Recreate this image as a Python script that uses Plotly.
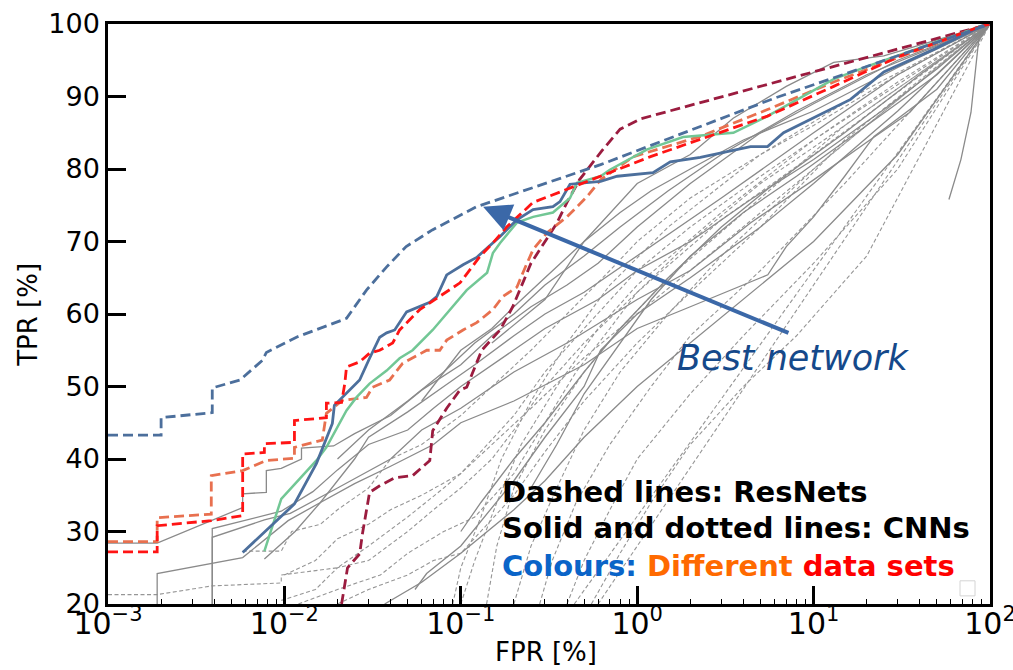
import plotly.graph_objects as go

# ---------------- data (FPR %, TPR %) ----------------
# coloured ResNet (dashed) curves
blue_dash_x = [0.001, 0.002, 0.002, 0.0039, 0.0039, 0.0056, 0.0075, 0.0079, 0.0117, 0.0164, 0.0225,
               0.0292, 0.038, 0.049, 0.069, 0.123, 0.62, 5.9, 100]
blue_dash_y = [43.3, 43.3, 45.7, 46.4, 49.8, 50.9, 53.6, 54.7, 56.8, 58.2, 59.4,
               63.3, 66.5, 69.3, 71.6, 74.8, 80.6, 89.7, 100]

red_dash_x = [0.001, 0.0019, 0.0019, 0.00385, 0.0058, 0.0058, 0.0077, 0.0077, 0.0114, 0.0114, 0.0173,
              0.0173, 0.0211, 0.022, 0.0225, 0.0267, 0.0304, 0.0347, 0.0411, 0.045, 0.0585, 0.076,
              0.099, 0.128, 0.152, 0.182, 0.257, 0.40, 0.62, 0.77, 1.19, 2.28, 5.48, 13, 31, 89, 100]
red_dash_y = [27.2, 27.2, 30.8, 31.5, 32.2, 40.7, 40.9, 42.1, 42.3, 45.3, 45.7,
              47.7, 47.8, 50.4, 52.7, 53.4, 54.6, 55.0, 56.0, 57.8, 60.6, 62.4,
              64.3, 67.9, 69.8, 72.0, 75.4, 77.2, 79.0, 79.9, 81.7, 84.1, 87.3, 91.4, 95.6, 99.7, 100]

coral_dash_x = [0.001, 0.0019, 0.0019, 0.00385, 0.00385, 0.0058, 0.0079, 0.0114, 0.0114, 0.0164, 0.0173,
                0.0214, 0.0292, 0.0316, 0.0395, 0.0468, 0.0641, 0.076, 0.0832, 0.103, 0.123, 0.152,
                0.173, 0.208, 0.225, 0.257, 0.308, 0.40, 0.52, 0.62, 0.95, 2.28, 5.48, 13, 89, 100]
coral_dash_y = [28.6, 28.6, 31.9, 32.4, 37.7, 38.4, 39.8, 40.1, 41.6, 42.6, 46.3,
                48.1, 48.5, 49.9, 50.9, 53.2, 55.0, 55.0, 56.4, 57.8, 58.8, 60.6,
                62.4, 63.7, 65.7, 68.9, 71.2, 73.4, 76.2, 78.5, 81.7, 84.5, 88.2, 92.0, 99.7, 100]

maroon_dash_x = [0.0211, 0.0228, 0.0267, 0.0277, 0.0304, 0.0347, 0.0422, 0.0533, 0.0667, 0.0693, 0.0832,
                 0.0987, 0.108, 0.1315, 0.167, 0.197, 0.25, 0.35, 0.40, 0.47, 0.63, 0.8, 1.04, 100]
maroon_dash_y = [20.0, 25.0, 26.9, 29.7, 35.4, 36.3, 37.4, 37.7, 39.8, 43.9, 47.0,
                 49.5, 49.9, 55.0, 57.8, 61.0, 67.0, 72.5, 75.4, 78.5, 82.5, 85.5, 86.9, 100]

# coloured CNN (solid) curves
blue_solid_x = [0.0058, 0.0114, 0.0152, 0.0187, 0.0192, 0.0267, 0.0304, 0.0347, 0.038, 0.0422, 0.0493,
                0.0667, 0.0731, 0.0832, 0.103, 0.123, 0.141, 0.167, 0.208, 0.257, 0.333, 0.365, 0.416,
                0.493, 0.62, 0.77, 1.23, 1.54, 2.28, 4.39, 5.48, 6.76, 10.5, 16.2, 25, 48, 89, 100]
blue_solid_y = [27.1, 33.8, 39.4, 44.9, 47.4, 50.9, 53.9, 56.8, 57.4, 57.8, 60.3,
                61.6, 62.4, 65.4, 66.8, 67.8, 69.1, 70.7, 73.0, 74.4, 74.8, 75.5, 77.9,
                78.1, 78.3, 79.0, 79.5, 81.0, 81.6, 83.1, 83.1, 85.0, 87.3, 89.6, 93.4, 96.5, 99.7, 100]

green_solid_x = [0.0077, 0.0096, 0.0152, 0.0173, 0.0225, 0.0256, 0.0304, 0.038, 0.045, 0.0533, 0.0693,
                 0.090, 0.108, 0.141, 0.152, 0.167, 0.208, 0.257, 0.333, 0.416, 0.456, 0.62, 0.70,
                 1.14, 1.82, 3.51, 5.48, 13, 20.3, 89, 100]
green_solid_y = [27.3, 34.5, 39.8, 41.6, 46.7, 48.5, 50.4, 52.2, 53.9, 55.0, 57.8,
                 61.0, 63.3, 65.7, 68.4, 69.8, 72.6, 73.4, 74.0, 76.0, 78.1, 79.0, 79.9,
                 82.7, 84.4, 85.0, 87.3, 92.4, 94.2, 99.7, 100]

# grey CNN curves (solid)
grey_solid = [
    ([0.001, 0.0019, 0.0058, 0.0058, 0.0079, 0.0079, 0.0096, 0.0125, 0.0125, 0.019, 0.025, 0.04, 0.06,
      0.1, 0.15, 0.25, 0.4, 0.6, 1, 2, 5, 10, 30, 100],
     [28.4, 28.4, 33.3, 35.2, 35.4, 38.4, 38.7, 40.0, 41.5, 41.8, 43.5, 46.0, 49.5,
      53.0, 57.0, 61.0, 64.0, 67.0, 72.0, 78.0, 85.0, 89.0, 95.0, 100]),
    ([0.0019, 0.0019, 0.0058, 0.0105, 0.016, 0.025, 0.03, 0.05, 0.08, 0.12, 0.2, 0.3, 0.5, 1, 3, 10, 30, 100],
     [20, 24.2, 26.4, 31.5, 34, 40, 43, 46.5, 50, 53, 57, 60, 63, 68, 76, 85, 93, 100]),
    ([0.0039, 0.0039, 0.0096, 0.0145, 0.02, 0.03, 0.05, 0.07, 0.1, 0.2, 0.3, 0.6, 1, 2, 4.4, 10, 25, 50, 100],
     [20, 30.4, 32.8, 35.5, 38.5, 42, 44, 47, 50, 55, 58, 62, 66, 70, 75.8, 81.3, 88.2, 93.8, 100]),
    ([0.0039, 0.0039, 0.0077, 0.0108, 0.02, 0.04, 0.06, 0.1, 0.2, 0.4, 1, 2, 4.4, 10, 20, 35, 100],
     [20, 29.2, 31.6, 32.5, 36, 40, 44, 47, 52, 56, 62, 66, 72.6, 78.5, 83.7, 87.8, 100]),
    ([0.0077, 0.0115, 0.016, 0.025, 0.04, 0.07, 0.1, 0.2, 0.5, 1, 2, 5.5, 7, 10, 15, 22, 50, 100],
     [26.2, 30, 34, 36.6, 39, 42, 45, 48, 53, 58, 61, 65.4, 69.3, 73.4, 79, 84.5, 91, 100]),
    ([0.15, 0.3, 0.5, 1, 2, 3.5, 7, 13, 25, 100],
     [56, 62, 70, 78, 82, 87, 91.4, 94.7, 95.6, 100]),
    ([58.5, 68.4, 78, 86.7, 100],
     [75.8, 81.3, 87.8, 98.3, 100]),
    ([0.037, 0.06, 0.1, 0.2, 0.3, 0.5, 1, 2, 4, 10, 30, 100],
     [20, 23, 27, 33, 37, 43, 50, 56, 62, 70, 82, 100]),
    ([0.055, 0.064, 0.1, 0.2, 0.3, 0.5, 0.62, 1, 2, 5, 10, 30, 100],
     [22, 24.2, 28, 37, 43, 50, 55, 60, 65, 72, 78, 88, 100]),
    ([0.02, 0.03, 0.05, 0.08, 0.12, 0.2, 0.3, 0.5, 0.8, 1.5, 3, 8, 20, 100],
     [40, 44, 48, 52, 56, 60, 64, 68, 72, 77, 82, 88, 93, 100]),
    ([0.06, 0.08, 0.1, 0.15, 0.2, 0.3, 0.5, 0.8, 1.2, 2, 4, 10, 30, 100],
     [48, 52, 55, 58, 61, 65, 70, 74, 77, 80, 84, 88, 94, 100]),
    ([0.1, 0.13, 0.2, 0.3, 0.5, 0.8, 1.5, 3, 6, 15, 40, 100],
     [30, 34, 40, 45, 52, 58, 65, 72, 78, 85, 93, 100]),
    ([0.25, 0.35, 0.5, 0.8, 1.2, 2, 4, 8, 20, 50, 100],
     [36, 42, 49, 56, 62, 68, 74, 79, 86, 93, 100]),
]

# grey ResNet curves (dashed)
grey_dashed = [
    ([0.001, 0.0019, 0.0039, 0.0096, 0.0096, 0.02, 0.03, 0.05, 0.08, 0.1, 0.2, 0.3, 0.5, 1, 2, 5, 10, 30, 100],
     [21.3, 21.3, 22.5, 22.9, 24, 25, 28, 32, 36, 38, 46, 52, 58, 66, 72, 79, 84, 92, 100]),
    ([0.0058, 0.0096, 0.011, 0.016, 0.02, 0.03, 0.04, 0.06, 0.1, 0.15, 0.25, 0.4, 0.7, 1, 2, 5, 10, 30, 100],
     [27.3, 27.3, 30, 31, 33, 36, 40, 42, 46, 50, 55, 60, 66, 70, 76, 82, 86, 93, 100]),
    ([0.0096, 0.015, 0.02, 0.03, 0.05, 0.07, 0.1, 0.15, 0.2, 0.3, 0.5, 1, 2, 5, 10, 100],
     [20.5, 22, 25, 26, 30, 33, 36, 40, 44, 50, 56, 63, 70, 78, 83, 100]),
    ([0.012, 0.02, 0.035, 0.05, 0.08, 0.12, 0.2, 0.3, 0.45, 0.7, 1, 3, 10, 100],
     [20, 22, 24, 27, 30, 32, 38, 45, 52, 58, 63, 73, 82, 100]),
    ([0.09, 0.1, 0.13, 0.17, 0.25, 0.4, 0.7, 1.5, 5, 20, 100],
     [20, 25, 32, 40, 48, 56, 64, 72, 82, 91, 100]),
    ([0.1, 0.12, 0.16, 0.22, 0.35, 0.6, 1, 3, 10, 100],
     [20, 26, 34, 42, 50, 58, 64, 74, 84, 100]),
    ([0.14, 0.16, 0.2, 0.3, 0.5, 0.8, 1.5, 4, 15, 100],
     [20, 28, 36, 44, 52, 58, 65, 74, 86, 100]),
    ([0.2, 0.25, 0.35, 0.5, 0.8, 1.5, 3, 10, 100],
     [20, 28, 36, 44, 52, 60, 68, 80, 100]),
    ([0.28, 0.33, 0.45, 0.7, 1.2, 2, 5, 15, 100],
     [20, 26, 34, 42, 50, 57, 66, 78, 100]),
    ([0.4, 0.5, 0.7, 1, 2, 4, 10, 30, 100],
     [20, 26, 33, 40, 49, 57, 67, 80, 100]),
    ([0.55, 0.8, 1.2, 2, 4, 8, 20, 100],
     [20, 27, 34, 42, 50, 57, 68, 100]),
    ([0.44, 100], [20, 100]),
    ([0.6, 100], [20, 100]),
    ([0.01, 0.015, 0.02, 0.03, 0.04, 0.06, 0.1, 0.15, 0.25, 0.5, 1, 2, 5, 20, 100],
     [24, 26, 29, 31, 33, 35, 38, 42, 47, 54, 60, 66, 74, 86, 100]),
    ([0.02, 0.03, 0.05, 0.07, 0.1, 0.13, 0.2, 0.3, 0.5, 1, 2, 5, 15, 100],
     [20, 22, 24, 26, 27, 30, 35, 41, 48, 56, 63, 72, 84, 100]),
]

x_tick_vals = [0.001, 0.01, 0.1, 1, 10, 100]
x_tick_text = ["10<sup>\u22123</sup>", "10<sup>\u22122</sup>", "10<sup>\u22121</sup>",
               "10<sup>0</sup>", "10<sup>1</sup>", "10<sup>2</sup>"]
x_minor_vals = [d * m for d in [0.001, 0.01, 0.1, 1, 10] for m in range(2, 10)]
y_tick_vals = [20, 30, 40, 50, 60, 70, 80, 90, 100]

# ---------------- colours / styles ----------------
BLUE = "#4c6f9c"
GREEN = "#72c795"
RED = "#ff1414"
CORAL = "#e8704f"
MAROON = "#9b1c3f"
GREY_S = "#8a8a8a"
GREY_D = "#969696"
CDASH = "10px,5px"

fig = go.Figure()


def add(x, y, color, width, dash="solid"):
    fig.add_trace(go.Scatter(x=x, y=y, mode="lines",
                             line=dict(color=color, width=width, dash=dash),
                             showlegend=False, hoverinfo="skip"))


for gx, gy in grey_dashed:
    add(gx, gy, GREY_D, 1.1, "4px,2.5px")
for gx, gy in grey_solid:
    add(gx, gy, GREY_S, 1.3)

add(maroon_dash_x, maroon_dash_y, MAROON, 2.8, CDASH)
add(coral_dash_x, coral_dash_y, CORAL, 2.8, CDASH)
add(green_solid_x, green_solid_y, GREEN, 2.5)
add(blue_solid_x, blue_solid_y, BLUE, 2.8)
add(red_dash_x, red_dash_y, RED, 2.8, CDASH)
add(blue_dash_x, blue_dash_y, BLUE, 2.8, CDASH)

font_dv = "DejaVu Sans"

fig.update_layout(
    template="none",
    width=1013, height=670,
    margin=dict(l=108, r=23, t=24, b=66),
    paper_bgcolor="white", plot_bgcolor="white",
    showlegend=False,
    xaxis=dict(
        type="log", range=[-3, 2], automargin=False,
        showline=True, linecolor="black", linewidth=2.5, mirror=True,
        showgrid=False, zeroline=False,
        tickmode="array", tickvals=x_tick_vals, ticktext=x_tick_text,
        ticks="inside", ticklen=18, tickwidth=2.5, tickcolor="black",
        ticklabeloverflow="allow", ticklabelstandoff=-9,
        tickfont=dict(family=font_dv, size=30, color="black"),
        minor=dict(tickmode="array", tickvals=x_minor_vals, ticks="inside",
                   ticklen=5, tickwidth=1, tickcolor="black", showgrid=False),
    ),
    yaxis=dict(
        range=[20, 100], automargin=False,
        showline=True, linecolor="black", linewidth=2.5, mirror=True,
        showgrid=False, zeroline=False,
        tickmode="array", tickvals=y_tick_vals,
        ticks="inside", ticklen=18, tickwidth=2.5, tickcolor="black",
        tickfont=dict(family=font_dv, size=27, color="black"),
    ),
)

# axis titles
fig.add_annotation(text="FPR [%]", xref="paper", yref="paper", x=0.4966, y=-0.082,
                   xanchor="center", yanchor="middle", showarrow=False,
                   font=dict(family=font_dv, size=26, color="black"))
fig.add_annotation(text="TPR [%]", xref="paper", yref="paper", x=-0.09, y=0.498,
                   xanchor="center", yanchor="middle", showarrow=False, textangle=-90,
                   font=dict(family=font_dv, size=26, color="black"))

# arrow to best network
fig.add_annotation(x=-0.874, y=74.8, ax=0.866, ay=57.3, xref="x", yref="y", axref="x", ayref="y",
                   text="", showarrow=True, arrowhead=2, arrowwidth=4, arrowsize=1.4,
                   arrowcolor="#3b68a8")
fig.add_annotation(x=0.214, y=53.9, xref="x", yref="y", text="Best network", showarrow=False,
                   xanchor="left", yanchor="middle",
                   font=dict(family=font_dv, size=35, color="#15498a", style="italic"))

# explanatory text block
fig.add_annotation(x=-0.778, y=35.5, xref="x", yref="y", text="Dashed lines: ResNets",
                   showarrow=False, xanchor="left", yanchor="middle",
                   font=dict(family=font_dv, size=29, color="black", weight="bold"))
fig.add_annotation(x=-0.778, y=30.5, xref="x", yref="y", text="Solid and dotted lines: CNNs",
                   showarrow=False, xanchor="left", yanchor="middle",
                   font=dict(family=font_dv, size=29, color="black", weight="bold"))
fig.add_annotation(x=-0.778, y=25.2, xref="x", yref="y",
                   text="<span style='color:#0a64c8'>Colours:</span> "
                        "<span style='color:#ff6a00'>Different</span> "
                        "<span style='color:#ff0000'>data sets</span>",
                   showarrow=False, xanchor="left", yanchor="middle",
                   font=dict(family=font_dv, size=29, color="black", weight="bold"))

# empty legend frame (bottom right)
fig.add_shape(type="rect", xref="paper", yref="paper", x0=0.966, x1=0.983, y0=0.014, y1=0.040,
              line=dict(color="#d4d4d4", width=1), fillcolor="rgba(255,255,255,0.8)")

fig.write_html("out.html")
